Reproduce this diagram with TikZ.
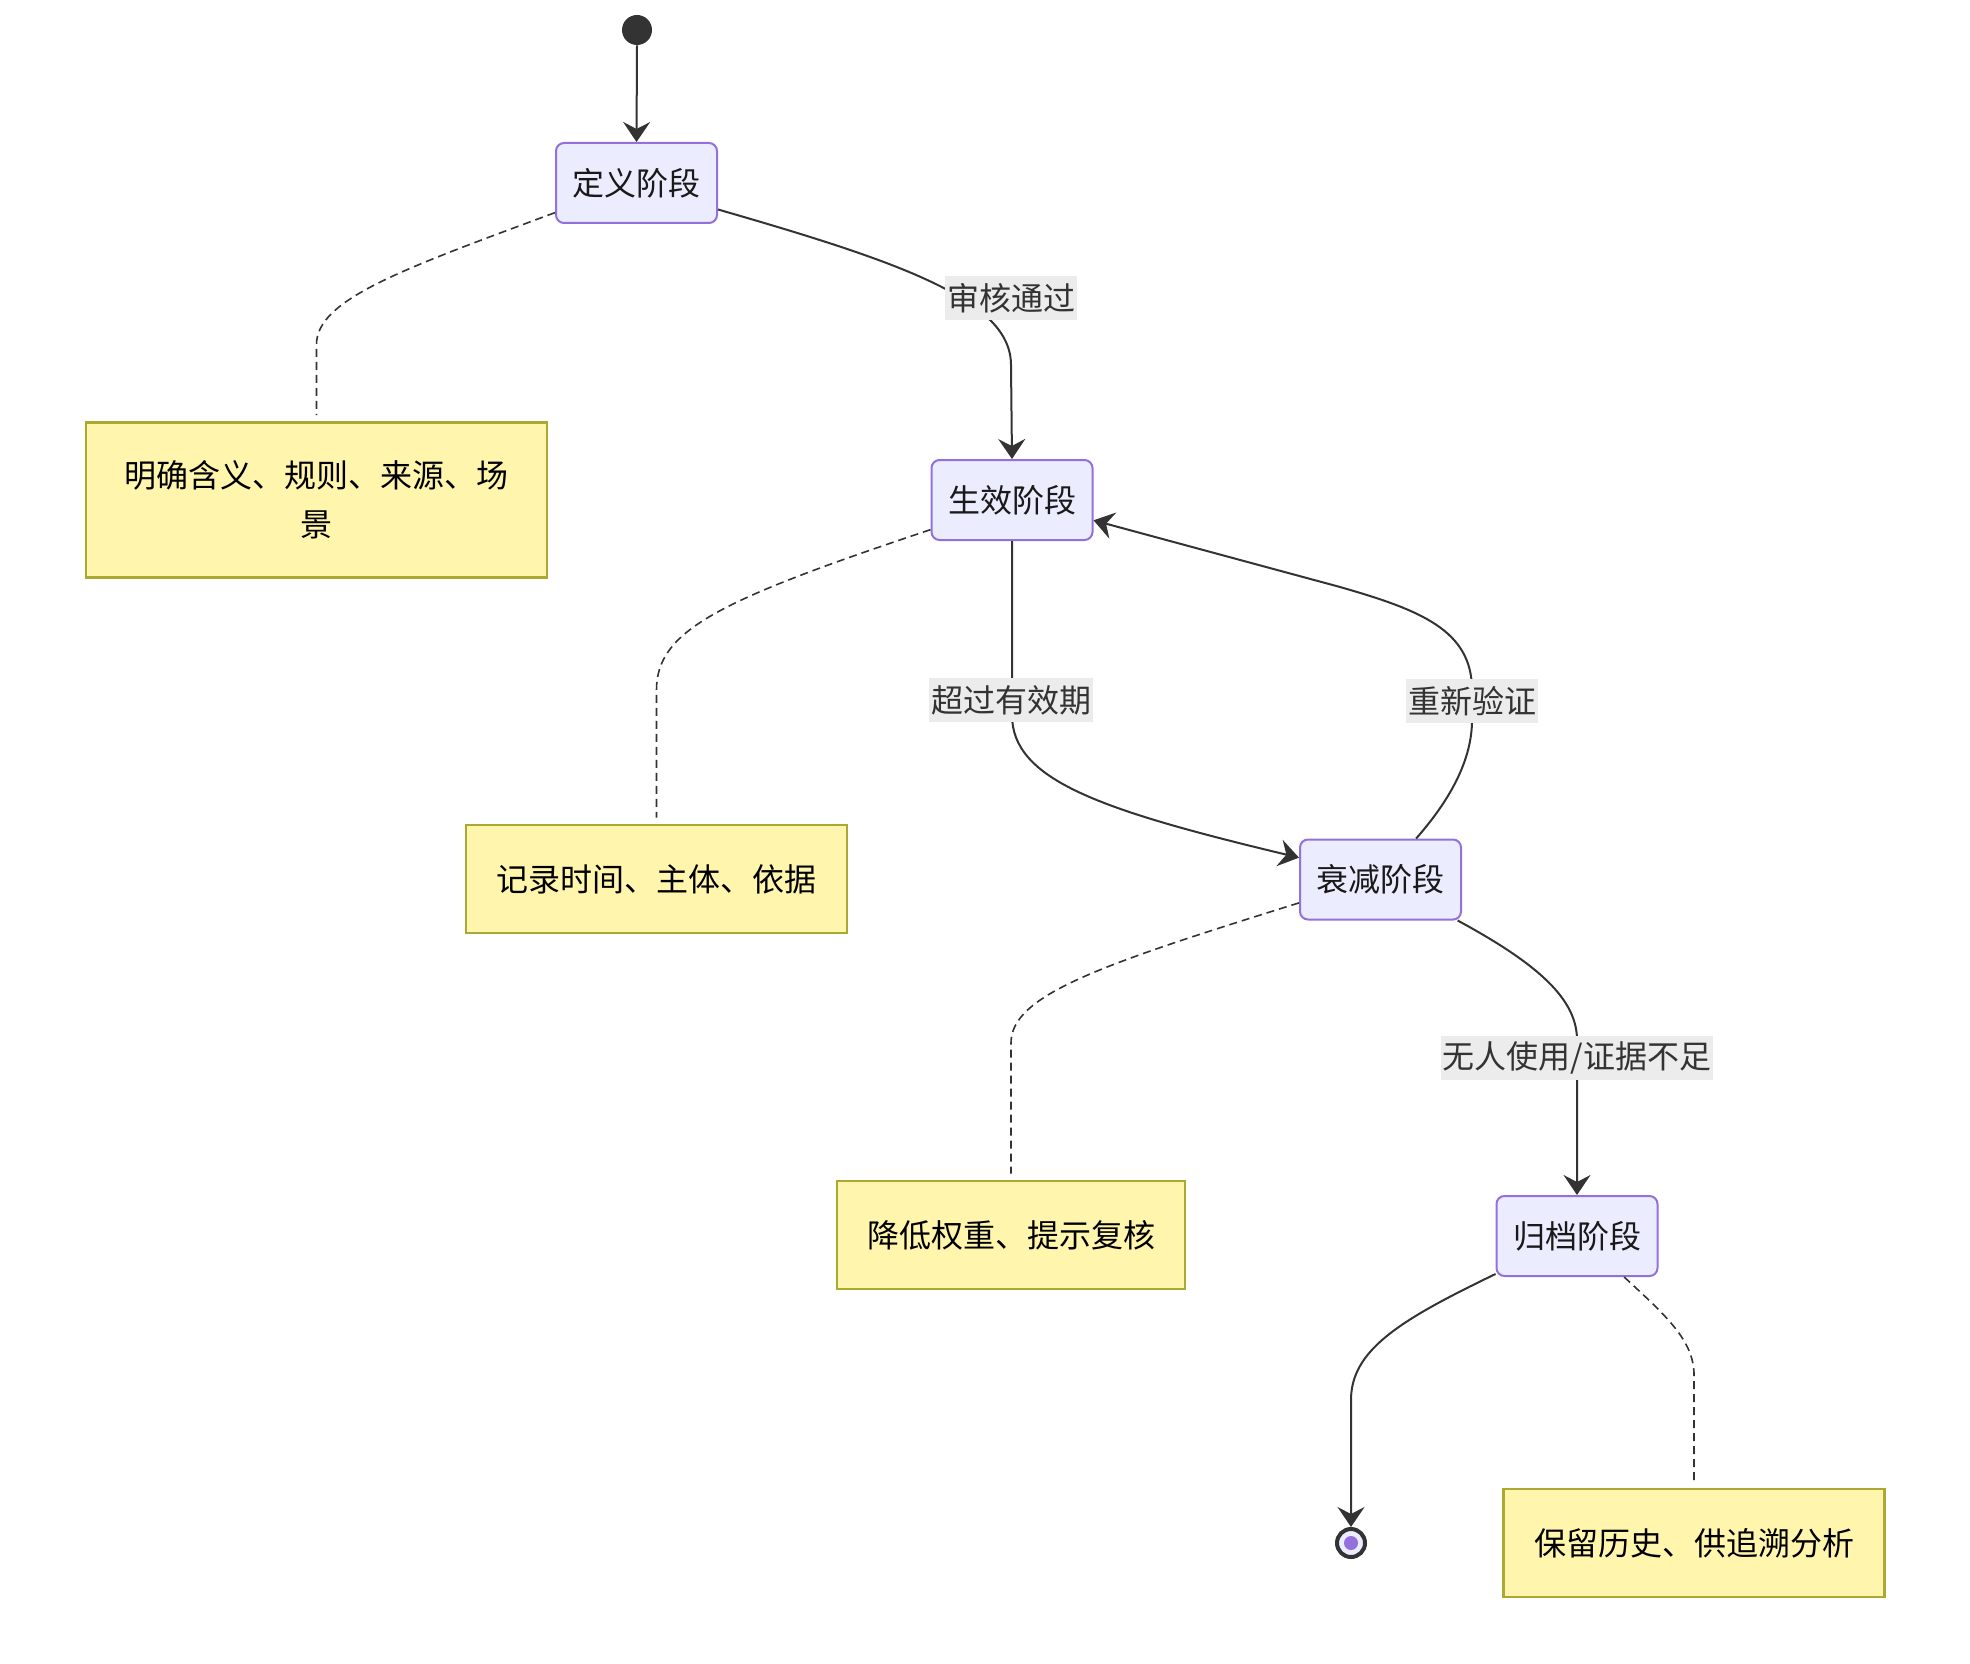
\documentclass[tikz,border=0pt]{standalone}
\usepackage{fontspec}
\setmainfont{Noto Sans CJK SC}
\usetikzlibrary{arrows.meta}
\definecolor{stfill}{HTML}{ECECFF}
\definecolor{ststroke}{HTML}{9370DB}
\definecolor{ntfill}{HTML}{FFF5AD}
\definecolor{ntstroke}{HTML}{AAAA33}
\definecolor{ln}{HTML}{333333}
\definecolor{lblbg}{HTML}{ECECEC}
\begin{document}
\begin{tikzpicture}[x=0.5pt,y=-0.5pt,
 font=\fontsize{16pt}{24.5pt}\selectfont,
 state/.style={draw=ststroke,fill=stfill,line width=1pt,rounded corners=4pt,minimum width=80.5pt,minimum height=40pt,inner sep=0pt,text=black!90},
 note/.style={draw=ntstroke,fill=ntfill,line width=1.3pt,inner sep=0pt,text=black,align=center},
 lbl/.style={fill=lblbg,text=ln,inner xsep=1pt,inner ysep=0pt,minimum height=22pt},
 tr/.style={draw=ln,line width=1pt,-{Stealth[length=10pt,width=13.5pt,inset=3.5pt]}},
 nl/.style={draw=ln,line width=0.8pt,dash pattern=on 4pt off 2.5pt,shorten >=3pt},
]
\useasboundingbox (0,0) rectangle (1970,1664);

% states
\node[circle,fill=ln,minimum size=15pt,inner sep=0pt] (s) at (637,30) {};
\node[state] (d1) at (636.5,183) {定义阶段};
\node[state] (d2) at (1012,500) {生效阶段};
\node[state] (d3) at (1380.5,879.5) {衰减阶段};
\node[state] (d4) at (1577,1236) {归档阶段};
\node[circle,draw=ln,line width=2pt,fill=stfill,minimum size=14pt,inner sep=0pt] (e) at (1351,1543) {};
\fill[ststroke] (e.center) circle[radius=3.5pt];

% notes
\node[note,minimum width=230.5pt,minimum height=77.5pt] (n1) at (316.5,500) {明确含义、规则、来源、场\\景};
\node[note,minimum width=190.5pt,minimum height=54pt] (n2) at (656.5,879) {记录时间、主体、依据};
\node[note,minimum width=174pt,minimum height=54pt] (n3) at (1011,1235) {降低权重、提示复核};
\node[note,minimum width=190.5pt,minimum height=54pt] (n4) at (1694,1543) {保留历史、供追溯分析};

% transitions
\draw[tr] (s.south) -- (d1.north);
\draw[tr] (d1.-18) .. controls (900,262) and (1011,300) .. (1011,365) -- (d2.north);
\draw[tr] (d2.south) -- (1012,715) .. controls (1012,780) and (1100,810) .. (d3.165);
\draw[tr] (d3.49) .. controls (1450,800) and (1472,760) .. (1472,720) -- (1472,690) .. controls (1472,630) and (1420,610) .. (1340,587) -- (d2.-14);
\draw[tr] (d3.-28) .. controls (1540,965) and (1577,1000) .. (1577,1040) -- (d4.north);
\draw[tr] (d4.205) .. controls (1400,1320) and (1351,1350) .. (1351,1400) -- (e.north);

% note links
\draw[nl] (d1.200) .. controls (400,270) and (316,300) .. (316.5,345) -- (n1.north);
\draw[nl] (d2.200) .. controls (720,600) and (656.5,630) .. (656.5,690) -- (n2.north);
\draw[nl] (d3.196) .. controls (1100,965) and (1011,995) .. (1011,1043) -- (n3.north);
\draw[nl] (d4.-41) .. controls (1665,1315) and (1694,1340) .. (1694,1375) -- (n4.north);

% labels
\node[lbl] (l1) at (1011,298) {审核通过};
\node[lbl] (l2) at (1011,700) {超过有效期};
\node[lbl] (l3) at (1472,701) {重新验证};
\node[lbl] (l4) at (1577,1058) {无人使用/证据不足};
\end{tikzpicture}
\end{document}
